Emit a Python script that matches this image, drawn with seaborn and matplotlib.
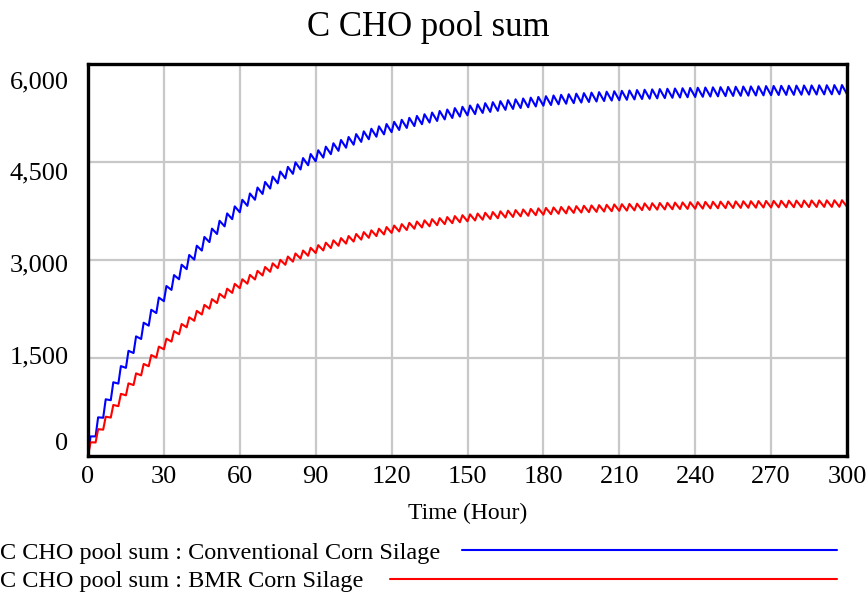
import matplotlib
matplotlib.use("Agg")
import matplotlib.pyplot as plt
from matplotlib.lines import Line2D
from matplotlib.transforms import ScaledTranslation
import pandas as pd
import seaborn as sns

# Pool content just before each 3-hourly feeding (troughs) and one hour after it (peaks)
trough_hours = list(range(0, 301, 3))
peak_hours = list(range(1, 300, 3))

conventional_troughs = [
    0, 300, 585, 854, 1108, 1349, 1576, 1791, 1995, 2188,
    2370, 2542, 2705, 2860, 3006, 3144, 3274, 3398, 3515, 3625,
    3730, 3829, 3922, 4011, 4094, 4174, 4249, 4319, 4386, 4450,
    4510, 4567, 4620, 4671, 4719, 4765, 4808, 4848, 4887, 4923,
    4957, 4990, 5021, 5050, 5078, 5104, 5128, 5152, 5174, 5195,
    5214, 5233, 5251, 5267, 5283, 5298, 5312, 5326, 5338, 5350,
    5362, 5372, 5383, 5392, 5401, 5410, 5418, 5426, 5433, 5440,
    5446, 5452, 5458, 5464, 5469, 5474, 5478, 5483, 5487, 5491,
    5495, 5498, 5502, 5505, 5508, 5511, 5513, 5516, 5518, 5520,
    5523, 5525, 5527, 5528, 5530, 5532, 5533, 5535, 5536, 5537,
    5539,
]
conventional_peaks = [
    300, 592, 868, 1129, 1376, 1610, 1831, 2040, 2238, 2425,
    2602, 2769, 2928, 3077, 3219, 3353, 3480, 3600, 3713, 3821,
    3922, 4018, 4109, 4195, 4277, 4354, 4426, 4495, 4560, 4622,
    4680, 4735, 4787, 4837, 4883, 4927, 4969, 5009, 5046, 5081,
    5115, 5146, 5176, 5205, 5231, 5257, 5281, 5303, 5325, 5345,
    5364, 5382, 5400, 5416, 5431, 5446, 5459, 5472, 5485, 5496,
    5507, 5518, 5528, 5537, 5546, 5554, 5562, 5569, 5576, 5583,
    5589, 5595, 5601, 5606, 5611, 5616, 5621, 5625, 5629, 5633,
    5637, 5640, 5643, 5646, 5649, 5652, 5655, 5657, 5659, 5662,
    5664, 5666, 5667, 5669, 5671, 5672, 5674, 5675, 5677, 5678,
]
bmr_troughs = [
    0, 207, 403, 588, 763, 929, 1086, 1234, 1374, 1507,
    1633, 1751, 1864, 1970, 2070, 2166, 2255, 2341, 2421, 2497,
    2569, 2637, 2702, 2763, 2820, 2875, 2927, 2975, 3022, 3065,
    3107, 3146, 3183, 3218, 3251, 3282, 3312, 3340, 3366, 3391,
    3415, 3437, 3459, 3479, 3498, 3516, 3533, 3549, 3564, 3578,
    3592, 3605, 3617, 3628, 3639, 3650, 3659, 3669, 3677, 3686,
    3693, 3701, 3708, 3714, 3721, 3727, 3732, 3737, 3742, 3747,
    3752, 3756, 3760, 3764, 3767, 3771, 3774, 3777, 3780, 3782,
    3785, 3787, 3790, 3792, 3794, 3796, 3798, 3800, 3801, 3803,
    3804, 3806, 3807, 3808, 3809, 3810, 3812, 3813, 3813, 3814,
    3815,
]
bmr_peaks = [
    210, 411, 601, 781, 951, 1112, 1265, 1409, 1545, 1674,
    1796, 1911, 2020, 2123, 2221, 2313, 2401, 2483, 2561, 2635,
    2705, 2772, 2834, 2893, 2949, 3002, 3053, 3100, 3145, 3187,
    3227, 3265, 3301, 3335, 3367, 3398, 3427, 3454, 3479, 3504,
    3527, 3549, 3569, 3589, 3607, 3625, 3641, 3657, 3672, 3686,
    3699, 3711, 3723, 3734, 3745, 3755, 3764, 3773, 3782, 3790,
    3797, 3804, 3811, 3818, 3824, 3830, 3835, 3840, 3845, 3850,
    3854, 3858, 3862, 3866, 3869, 3872, 3875, 3878, 3881, 3884,
    3886, 3889, 3891, 3893, 3895, 3897, 3899, 3900, 3902, 3904,
    3905, 3906, 3908, 3909, 3910, 3911, 3912, 3913, 3914, 3915,
]

series_names = [
    "C CHO pool sum : Conventional Corn Silage",
    "C CHO pool sum : BMR Corn Silage",
]
series_colors = ["#0000ff", "#ff0000"]
x_ticks = list(range(0, 301, 30))
y_ticks = [0, 1500, 3000, 4500, 6000]
y_tick_labels = ["0", "1,500", "3,000", "4,500", "6,000"]


def series_frame(name, troughs, peaks):
    hours = trough_hours + peak_hours
    values = troughs + peaks
    frame = pd.DataFrame({"hour": hours, "value": values})
    frame = frame.sort_values("hour").reset_index(drop=True)
    frame["series"] = name
    return frame


data = pd.concat([
    series_frame(series_names[0], conventional_troughs, conventional_peaks),
    series_frame(series_names[1], bmr_troughs, bmr_peaks),
], ignore_index=True)

sns.set_theme(style="white")
plt.rcParams["font.family"] = ["Liberation Serif", "DejaVu Serif"]
plt.rcParams["text.color"] = "black"

W, H = 868, 595
fig = plt.figure(figsize=(W / 100, H / 100), dpi=100)
ax = fig.add_axes([88 / W, 1 - 456 / H, (847 - 88) / W, (456 - 64) / H])

sns.lineplot(
    data=data, x="hour", y="value", hue="series",
    palette=dict(zip(series_names, series_colors)),
    estimator=None, sort=True, legend=False, linewidth=1.5, ax=ax,
)

ax.set_xlim(0, 300)
ax.set_ylim(0, 6000)
ax.set_xticks(x_ticks)
ax.set_xticklabels([str(t) for t in x_ticks])
ax.set_yticks(y_ticks)
ax.set_yticklabels(y_tick_labels)
ax.grid(True, color="#c8c8c8", linewidth=1.6)
ax.set_axisbelow(True)
ax.tick_params(axis="both", length=0, labelsize=19, colors="black")
ax.tick_params(axis="y", pad=14)
ax.tick_params(axis="x", pad=7)
for spine in ax.spines.values():
    spine.set_visible(True)
    spine.set_color("black")
    spine.set_linewidth(2.4)

# value labels are spread evenly between the top and bottom of the frame
for label, shift_px in zip(ax.get_yticklabels(), [-15, -3, 3, 9, 16]):
    label.set_transform(label.get_transform()
                        + ScaledTranslation(0, -shift_px / 100, fig.dpi_scale_trans))

ax.set_xlabel("Time (Hour)", fontsize=17, labelpad=11, color="black")
ax.set_ylabel("")

fig.text(428 / W, 1 - 28 / H, "C CHO pool sum", ha="center", va="center",
         fontsize=25)

legend_rows = [(553, 462), (582, 390)]
for name, color, (row_y, line_start) in zip(series_names, series_colors, legend_rows):
    fig.text(0, 1 - row_y / H, name, ha="left", va="center", fontsize=17.5)
    fig.add_artist(Line2D([line_start / W, 837 / W], [1 - (row_y - 3) / H] * 2,
                          transform=fig.transFigure, color=color, linewidth=1.5))

fig.savefig("out.png", dpi=100)
